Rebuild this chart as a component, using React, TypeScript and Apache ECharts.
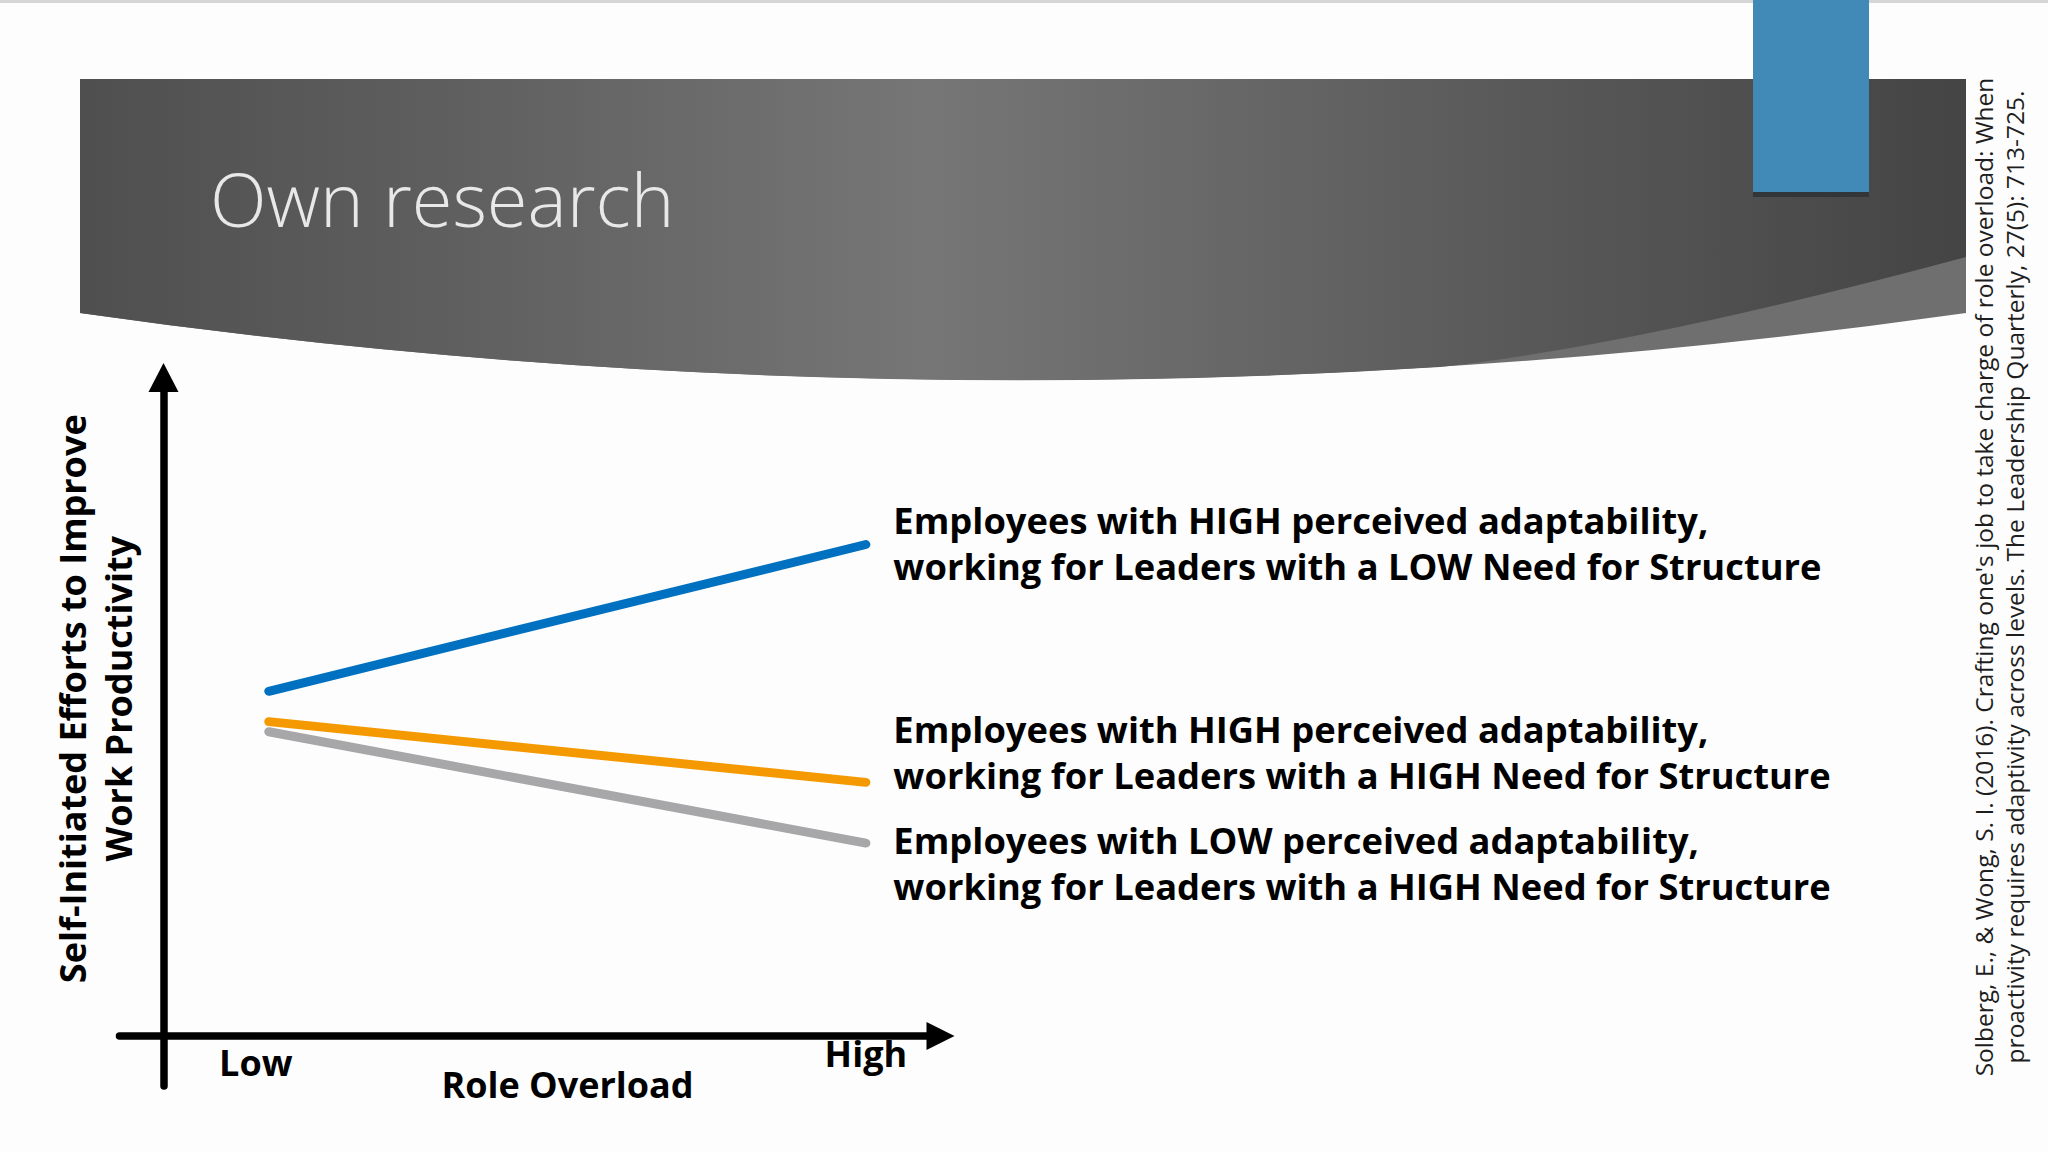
import * as echarts from "echarts"
import { useEffect, useRef } from "react"

// x positions of the two role overload levels, and their tick labels
const roleOverload = [1, 5]
const roleOverloadLabels = ["Low", "High"]

// self-initiated efforts (arbitrary units) at Low / High role overload
const lowAdaptHighNeed = [7.0, 4.8]
const highAdaptHighNeed = [7.2, 6.0]
const highAdaptLowNeed = [7.8, 10.7]

const seriesNames = [
  "Employees with LOW perceived adaptability,\nworking for Leaders with a HIGH Need for Structure",
  "Employees with HIGH perceived adaptability,\nworking for Leaders with a HIGH Need for Structure",
  "Employees with HIGH perceived adaptability,\nworking for Leaders with a LOW Need for Structure",
]
const seriesValues = [lowAdaptHighNeed, highAdaptHighNeed, highAdaptLowNeed]
const seriesColors = ["#a7a7a9", "#f49a00", "#0070c0"]
const labelShift = [20, -30, -2]

const citation =
  "Solberg, E., & Wong, S. I. (2016). Crafting one's job to take charge of role overload: When\nproactivity requires adaptivity across levels. The Leadership Quarterly, 27(5): 713-725."

const FONT = "'Open Sans', 'Noto Sans', sans-serif"

// header band of the slide
echarts.graphic.registerShape(
  "bandLight",
  echarts.graphic.extendPath("M80 79 L1966 79 L1966 313 Q1019 447 80 313 Z", {})
)
echarts.graphic.registerShape(
  "bandDark",
  echarts.graphic.extendPath(
    "M80 79 L1966 79 L1966 257 Q1640 345 1440 367 Q757 410 80 313 Z",
    {}
  )
)

export default function App() {
  const ref = useRef<HTMLDivElement>(null)

  useEffect(() => {
    if (!ref.current) return
    const chart = echarts.init(ref.current, null, { renderer: "svg" })

    const series = seriesValues.map((vals, i) => ({
      name: seriesNames[i],
      type: "line",
      data: vals.map((v, j) => [roleOverload[j], v]),
      symbol: "circle",
      symbolSize: 1,
      showSymbol: true,
      itemStyle: { color: seriesColors[i] },
      lineStyle: { width: 9, color: seriesColors[i], cap: "round" },
      label: {
        show: true,
        position: "right",
        distance: 27,
        offset: [0, labelShift[i]],
        formatter: (p: any) => (p.dataIndex === vals.length - 1 ? seriesNames[i] : ""),
        fontFamily: FONT,
        fontWeight: "bold",
        fontSize: 36.3,
        lineHeight: 46,
        color: "#000",
      },
      emphasis: { disabled: true },
      z: 3 + i,
    }))

    const axisLineStyle = { color: "#000", width: 7.5, cap: "round" }

    chart.setOption({
      animation: false,
      backgroundColor: "#fdfdfd",
      grid: { left: 119.5, top: 377.5, width: 821, height: 708.5 },
      xAxis: {
        type: "value",
        min: 0,
        max: 5.5,
        offset: -50,
        axisLine: {
          onZero: false,
          lineStyle: axisLineStyle,
          symbol: ["none", "triangle"],
          symbolSize: [28, 28],
        },
        axisTick: { show: false },
        splitLine: { show: false },
        axisLabel: {
          customValues: roleOverload,
          margin: 0,
          formatter: (v: number) => {
            const k = roleOverload.indexOf(v)
            return k === 0 ? `{low|${roleOverloadLabels[k]}}` : `{high|${roleOverloadLabels[k]}}`
          },
          rich: {
            low: {
              fontFamily: FONT,
              fontWeight: "bold",
              fontSize: 36,
              lineHeight: 40,
              color: "#000",
              padding: [12, 26, 0, 0],
            },
            high: {
              fontFamily: FONT,
              fontWeight: "bold",
              fontSize: 36,
              lineHeight: 40,
              color: "#000",
              padding: [0, 0, 6, 0],
            },
          },
        },
        name: "Role Overload",
        nameLocation: "middle",
        nameGap: 28,
        nameMoveOverlap: false,
        nameTextStyle: {
          fontFamily: FONT,
          fontWeight: "bold",
          fontSize: 36,
          lineHeight: 40,
          color: "#000",
          padding: [0, 0, 0, 75],
        },
      },
      yAxis: {
        type: "value",
        min: 0,
        max: 14,
        offset: -44,
        axisLine: {
          onZero: false,
          lineStyle: axisLineStyle,
          symbol: ["none", "triangle"],
          symbolSize: [30, 29],
        },
        axisTick: { show: false },
        splitLine: { show: false },
        axisLabel: { show: false },
        name: "Self-Initiated Efforts to Improve\nWork Productivity",
        nameLocation: "middle",
        nameRotate: 90,
        nameGap: 22,
        nameMoveOverlap: false,
        nameTextStyle: {
          fontFamily: FONT,
          fontWeight: "bold",
          fontSize: 36,
          lineHeight: 46,
          color: "#000",
          align: "center",
          padding: [0, 0, 0, 66],
        },
      },
      series,
      graphic: [
        {
          type: "rect",
          shape: { x: 0, y: 0, width: 2048, height: 3 },
          style: { fill: "#d6d6d6" },
          silent: true,
        },
        {
          type: "bandLight",
          x: 0,
          y: 0,
          style: { fill: "#6f6f6f" },
          silent: true,
        },
        {
          type: "bandDark",
          x: 0,
          y: 0,
          style: {
            fill: new echarts.graphic.LinearGradient(0, 0, 1, 0, [
              { offset: 0, color: "#4f4f4f" },
              { offset: 0.2, color: "#5f5f5f" },
              { offset: 0.45, color: "#767676" },
              { offset: 0.75, color: "#5a5a5a" },
              { offset: 1, color: "#444444" },
            ]),
          },
          silent: true,
        },
        {
          type: "rect",
          shape: { x: 1753, y: 186, width: 116, height: 11 },
          style: { fill: "#333638" },
          silent: true,
        },
        {
          type: "rect",
          shape: { x: 1753, y: 0, width: 116, height: 192 },
          style: { fill: "#4189b6" },
          silent: true,
        },
        {
          type: "text",
          x: 210,
          y: 198,
          style: {
            text: "Own research",
            fill: "#e8e8e8",
            fontFamily: FONT,
            fontWeight: 300,
            fontSize: 74,
            verticalAlign: "middle",
          },
          silent: true,
        },
        {
          type: "text",
          x: 1999,
          y: 577,
          rotation: Math.PI / 2,
          style: {
            text: citation,
            fill: "#1e1e1e",
            fontFamily: FONT,
            fontSize: 24.5,
            lineHeight: 31,
            align: "center",
            verticalAlign: "middle",
          },
          silent: true,
        },
      ],
    })

    return () => chart.dispose()
  }, [])

  return (
    <div
      ref={ref}
      style={{ position: "fixed", left: 0, top: 0, width: 2048, height: 1152 }}
    />
  )
}
